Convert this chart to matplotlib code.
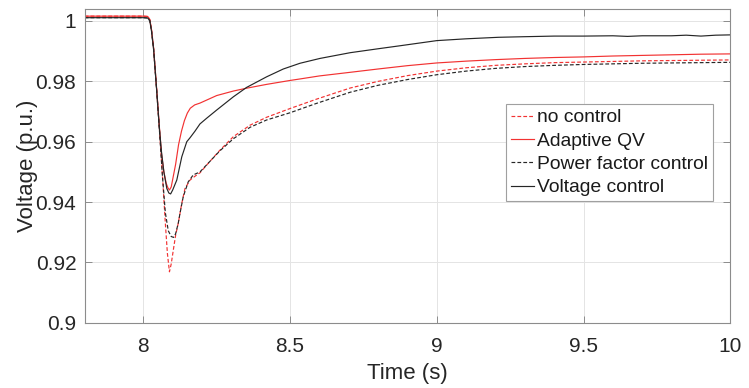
import matplotlib
matplotlib.use("Agg")
import matplotlib.pyplot as plt
from matplotlib.ticker import FixedLocator, FuncFormatter

plt.rcParams['font.family'] = ['Liberation Sans', 'DejaVu Sans']

# ---- data ----
t_nc = [7.80, 8.000, 8.015, 8.022, 8.028, 8.035, 8.045, 8.055, 8.065, 8.075, 8.082, 8.089,
        8.095, 8.102, 8.110, 8.119, 8.131, 8.142, 8.159, 8.175, 8.193, 8.227, 8.261, 8.307,
        8.364, 8.420, 8.500, 8.590, 8.705, 8.800, 8.900, 9.000, 9.100, 9.200, 9.300, 9.400,
        9.500, 9.600, 9.700, 9.800, 9.900, 10.00]
v_nc = [1.0016, 1.0016, 1.0015, 1.0005, 0.9970, 0.9910, 0.9780, 0.9640, 0.9490, 0.9330, 0.9230, 0.9169,
        0.9195, 0.9240, 0.9290, 0.9330, 0.9396, 0.9445, 0.9473, 0.9485, 0.9497, 0.9535, 0.9572, 0.9617,
        0.9655, 0.9681, 0.9710, 0.9741, 0.9778, 0.9800, 0.9819, 0.9834, 0.9845, 0.9853, 0.9858, 0.9862,
        0.9864, 0.9866, 0.9868, 0.9869, 0.9870, 0.9871]

t_aq = [7.80, 8.000, 8.015, 8.022, 8.028, 8.035, 8.045, 8.055, 8.062, 8.070, 8.078, 8.084, 8.089,
        8.095, 8.100, 8.110, 8.120, 8.130, 8.140, 8.150, 8.160, 8.175, 8.193, 8.250, 8.307, 8.350,
        8.420, 8.500, 8.534, 8.600, 8.705, 8.800, 8.900, 9.000, 9.100, 9.200, 9.300, 9.400, 9.500,
        9.600, 9.700, 9.800, 9.900, 10.00]
v_aq = [1.0016, 1.0016, 1.0015, 1.0005, 0.9970, 0.9910, 0.9780, 0.9645, 0.9560, 0.9500, 0.9462, 0.9447, 0.9440,
        0.9450, 0.9475, 0.9525, 0.9590, 0.9635, 0.9670, 0.9695, 0.9711, 0.9722, 0.9728, 0.9753, 0.9768, 0.9777,
        0.9790, 0.9803, 0.9808, 0.9818, 0.9830, 0.9841, 0.9852, 0.9861, 0.9867, 0.9872, 0.9876, 0.9879, 0.9881,
        0.9884, 0.9886, 0.9888, 0.9890, 0.9891]

t_pf = [7.80, 8.000, 8.015, 8.022, 8.028, 8.035, 8.045, 8.055, 8.065, 8.075, 8.085, 8.095, 8.103,
        8.110, 8.119, 8.125, 8.136, 8.153, 8.170, 8.193, 8.227, 8.261, 8.307, 8.364, 8.420, 8.500,
        8.590, 8.705, 8.800, 8.900, 9.000, 9.100, 9.200, 9.300, 9.400, 9.500, 9.600, 9.700, 9.800,
        9.900, 10.00]
v_pf = [1.0011, 1.0011, 1.0010, 1.0001, 0.9966, 0.9906, 0.9776, 0.9636, 0.9488, 0.9365, 0.9305, 0.9286, 0.9283,
        0.9295, 0.9330, 0.9363, 0.9418, 0.9467, 0.9490, 0.9500, 0.9535, 0.9570, 0.9610, 0.9648, 0.9672, 0.9696,
        0.9727, 0.9764, 0.9787, 0.9806, 0.9822, 0.9834, 0.9843, 0.9849, 0.9853, 0.9856, 0.9858, 0.9860, 0.9861,
        0.9862, 0.9863]

t_vc = [7.80, 8.000, 8.015, 8.022, 8.028, 8.035, 8.045, 8.055, 8.062, 8.070, 8.080, 8.087, 8.093,
        8.100, 8.114, 8.131, 8.148, 8.159, 8.176, 8.193, 8.216, 8.250, 8.307, 8.352, 8.420, 8.477,
        8.534, 8.602, 8.705, 8.800, 8.875, 9.000, 9.100, 9.210, 9.300, 9.400, 9.500, 9.600, 9.650,
        9.700, 9.800, 9.850, 9.900, 9.950, 10.00]
v_vc = [1.0011, 1.0011, 1.0010, 1.0001, 0.9966, 0.9906, 0.9776, 0.9640, 0.9565, 0.9500, 0.9445, 0.9430, 0.9427,
        0.9440, 0.9473, 0.9550, 0.9600, 0.9613, 0.9635, 0.9659, 0.9678, 0.9705, 0.9749, 0.9780, 0.9815, 0.9841,
        0.9860, 0.9876, 0.9895, 0.9908, 0.9918, 0.9935, 0.9941, 0.9946, 0.9948, 0.9950, 0.9950, 0.9951, 0.9949,
        0.9951, 0.9951, 0.9953, 0.9950, 0.9953, 0.9954]

labels = ["no control", "Adaptive QV", "Power factor control", "Voltage control"]
x_ticks = [8, 8.5, 9, 9.5, 10]
y_ticks = [0.9, 0.92, 0.94, 0.96, 0.98, 1.0]

# ---- figure ----
fig = plt.figure(figsize=(7.49, 3.88), dpi=100)
ax = fig.add_axes([0.113, 0.168, 0.862, 0.809])

red = '#f23232'
blk = '#262626'
lw = 0.85
ax.plot(t_nc, v_nc, color=red, lw=lw, dashes=(3.2, 1.8), label=labels[0])
ax.plot(t_aq, v_aq, color=red, lw=lw, label=labels[1])
ax.plot(t_pf, v_pf, color=blk, lw=lw, dashes=(3.2, 1.8), label=labels[2])
ax.plot(t_vc, v_vc, color=blk, lw=lw, label=labels[3])

ax.set_xlim(7.8, 10)
ax.set_ylim(0.9, 1.004)
ax.xaxis.set_major_locator(FixedLocator(x_ticks))
ax.yaxis.set_major_locator(FixedLocator(y_ticks))
fmt = FuncFormatter(lambda v, p: '%g' % round(v, 4))
ax.xaxis.set_major_formatter(fmt)
ax.yaxis.set_major_formatter(fmt)

ax.grid(True, color='#e4e4e4', lw=0.7)
ax.set_axisbelow(True)
for s in ax.spines.values():
    s.set_color('#8c8c8c')
    s.set_linewidth(0.8)
ax.tick_params(direction='in', length=5, width=0.7, color='#8c8c8c',
               top=True, right=True, labelsize=15, labelcolor='#262626', pad=6)
ax.tick_params(axis='x', pad=10)

ax.set_xlabel('Time (s)', fontsize=16, color='#262626', labelpad=5)
ax.set_ylabel('Voltage (p.u.)', fontsize=16, color='#262626')
ax.yaxis.set_label_coords(-0.072, 0.5)

leg = ax.legend(loc='upper left', bbox_to_anchor=(0.653, 0.697), fontsize=13.9,
                frameon=True, fancybox=False, edgecolor='#a0a0a0', framealpha=1,
                handlelength=1.2, handletextpad=0.15, borderpad=0.25,
                labelspacing=0.3, borderaxespad=0)
leg.get_frame().set_linewidth(0.8)
for txt in leg.get_texts():
    txt.set_color('#1a1a1a')

fig.savefig('out.png', dpi=100)
